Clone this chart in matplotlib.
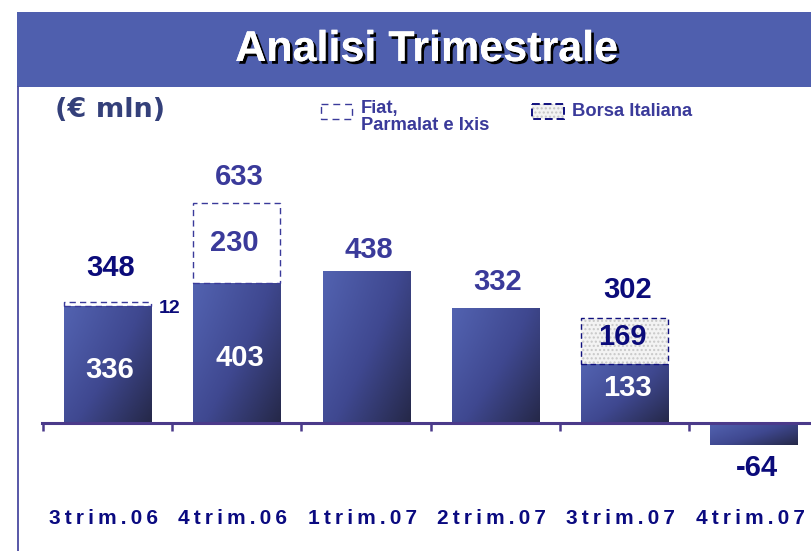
import numpy as np
import matplotlib
matplotlib.use("Agg")
import matplotlib.pyplot as plt
from matplotlib.colors import LinearSegmentedColormap
from matplotlib.patches import Rectangle
import matplotlib.patheffects as pe

# ---------------- data ----------------
categories = ["3trim.06", "4trim.06", "1trim.07", "2trim.07", "3trim.07", "4trim.07"]
core_values = [336, 403, 438, 332, 169, -64]      # solid gradient bars (as drawn)
fiat_values = [12, 230, 0, 0, 0, 0]               # Fiat, Parmalat e Ixis (dashed empty)
borsa_values = [0, 0, 0, 0, 133, 0]               # Borsa Italiana (dotted)
total_labels = ["348", "633", "438", "332", "302", "-64"]
core_labels = ["336", "403", "", "", "133", ""]
fiat_labels = ["12", "230", "", "", "", ""]
borsa_labels = ["", "", "", "", "169", ""]

# ---------------- figure ----------------
W, H = 812, 551
fig = plt.figure(figsize=(W / 100, H / 100), dpi=100)
fig.patch.set_facecolor("white")

deco = fig.add_axes([0, 0, 1, 1], zorder=0)
deco.set_xlim(0, W)
deco.set_ylim(H, 0)
deco.axis("off")

BANNER = "#4F5FAE"
NAVY = "#0B0B7A"
MID = "#3A3A9A"
FAM = ["Liberation Sans", "DejaVu Sans"]

deco.add_patch(Rectangle((17, 12), W - 17, 75, facecolor=BANNER, edgecolor="none"))
deco.plot([18, 18], [87, H], color="#4A4AA0", lw=1.3)
deco.text(426, 50, "Analisi Trimestrale", ha="center", va="center", color="white",
          fontsize=31, fontweight="bold", family=FAM,
          path_effects=[pe.withSimplePatchShadow(offset=(2, -2), shadow_rgbFace="black", alpha=1.0),
                        pe.Normal()])
deco.text(55, 110, "(€ mln)", ha="left", va="center", color="#34407A",
          fontsize=19.5, fontweight="bold", family=["DejaVu Sans"])

# legend
deco.add_patch(Rectangle((321, 104), 31, 15, facecolor="white", edgecolor=MID,
                         lw=1.0, linestyle=(0, (5, 3.5))))
deco.text(361, 108, "Fiat,", ha="left", va="center", color=MID, fontsize=13.2,
          fontweight="bold", family=FAM)
deco.text(361, 125, "Parmalat e Ixis", ha="left", va="center", color=MID, fontsize=13.2,
          fontweight="bold", family=FAM)
deco.add_patch(Rectangle((532, 104), 32, 15, facecolor="#F2F2F2", edgecolor="#C4C4C4",
                         lw=0, hatch="...."))
deco.add_patch(Rectangle((532, 104), 32, 15, fill=False, edgecolor="#10107E",
                         lw=1.4, linestyle=(0, (4, 2))))
deco.text(572, 111, "Borsa Italiana", ha="left", va="center", color=MID, fontsize=13.2,
          fontweight="bold", family=FAM)

# ---------------- main axes ----------------
ZERO_PX = 422.5
SCALE = 0.346           # px per unit
STEP = 129.3
C0 = 107.5
ax = fig.add_axes([42 / W, 0, (W - 42) / W, (H - 87) / H], zorder=2)
ax.patch.set_alpha(0)
ymax = (ZERO_PX - 87) / SCALE
ymin = -(H - ZERO_PX) / SCALE
xleft = (42 - C0) / STEP
xright = (W - C0) / STEP

x = np.arange(len(categories))
bw = 0.673
cmap = LinearSegmentedColormap.from_list("bar", ["#5262B0", "#3F4890", "#252848"])

bars = ax.bar(x, core_values, width=bw, color="#3D4587", edgecolor="none", zorder=2)
for b in bars:
    x0, w = b.get_x(), b.get_width()
    y0, y1 = sorted([b.get_y(), b.get_y() + b.get_height()])
    xx, yy = np.meshgrid(np.linspace(0, 1, 80), np.linspace(0, 1, 80))
    t = (0.6 * xx + 0.45 * yy ** 1.2) / 1.05
    im = ax.imshow(t, cmap=cmap, vmin=0, vmax=1, extent=(x0, x0 + w, y0, y1),
                   origin="upper", aspect="auto", zorder=2.5, interpolation="bilinear")
    im.set_clip_path(b)

fiat_bottom = [c if f else 0 for c, f in zip(core_values, fiat_values)]
ax.bar(x, fiat_values, width=bw, bottom=fiat_bottom, fill=False, edgecolor=MID,
       lw=1.0, linestyle=(0, (4.5, 3)), zorder=3)

borsa_mask = [b != 0 for b in borsa_values]
bx = x[borsa_mask]
bv = np.array(borsa_values)[borsa_mask]
bb = np.array(core_values)[borsa_mask]
ax.bar(bx, bv, width=bw, bottom=bb, color="#F3F3F3", edgecolor="#C8C8C8", lw=0,
       hatch="....", zorder=2.6)
ax.bar(bx, bv, width=bw, bottom=bb, fill=False, edgecolor="#10107E", lw=1.0,
       linestyle=(0, (4, 2.5)), zorder=3)

for s in ["top", "right", "left"]:
    ax.spines[s].set_visible(False)
ax.spines["bottom"].set_position(("data", 0))
ax.spines["bottom"].set_color("#4B3A8A")
ax.spines["bottom"].set_linewidth(2.2)
ax.spines["bottom"].set_zorder(4)
ax.set_xticks(np.arange(len(categories)) - 0.5)
ax.tick_params(axis="x", direction="out", length=5.5, width=1.8, color="#4B3A8A",
               labelbottom=False)
ax.set_yticks([])
ax.set_xlim(xleft, xright)
ax.set_ylim(ymin, ymax)

PT = 0.72  # points per pixel
BIG = 21

total_offsets_px = [34, 26, 21, 26, 28, -23]
total_colors = [NAVY, MID, MID, MID, NAVY, NAVY]
for i in range(len(categories)):
    top = core_values[i] + fiat_values[i] + borsa_values[i]
    ax.annotate(total_labels[i], xy=(x[i] + 0.02, top), xytext=(0, total_offsets_px[i] * PT),
                textcoords="offset points", ha="center", va="center",
                fontsize=BIG, fontweight="bold", color=total_colors[i], family=FAM, zorder=5)

core_label_px = [52, 64, 0, 0, 34, 0]
for i, lab in enumerate(core_labels):
    if lab:
        ax.text(x[i] + 0.02, core_label_px[i] / SCALE, lab, ha="center", va="center",
                fontsize=BIG, fontweight="bold", color="white", family=FAM, zorder=5)

for i, lab in enumerate(fiat_labels):
    if not lab:
        continue
    if fiat_values[i] < 40:
        ax.text(x[i] + 0.48, (ZERO_PX - 308) / SCALE, lab, ha="center", va="center",
                fontsize=14, fontweight="bold", color=NAVY, family=FAM, zorder=5)
    else:
        ax.text(x[i] - 0.02, core_values[i] + fiat_values[i] / 2, lab, ha="center",
                va="center", fontsize=BIG, fontweight="bold", color=MID, family=FAM, zorder=5)

for i, lab in enumerate(borsa_labels):
    if lab:
        ax.text(x[i] - 0.02, core_values[i] + borsa_values[i] * 0.58, lab, ha="center",
                va="center", fontsize=BIG, fontweight="bold", color=NAVY, family=FAM, zorder=5)

lab_y = -(519 - ZERO_PX) / SCALE
for i, c in enumerate(categories):
    spaced = "\u2009".join(c)
    ax.text(x[i] - 0.03, lab_y, spaced, ha="center", va="center", fontsize=15,
            fontweight="bold", color="#0A0A80", family=FAM, zorder=5)

fig.savefig("out.png", dpi=100, facecolor="white")
